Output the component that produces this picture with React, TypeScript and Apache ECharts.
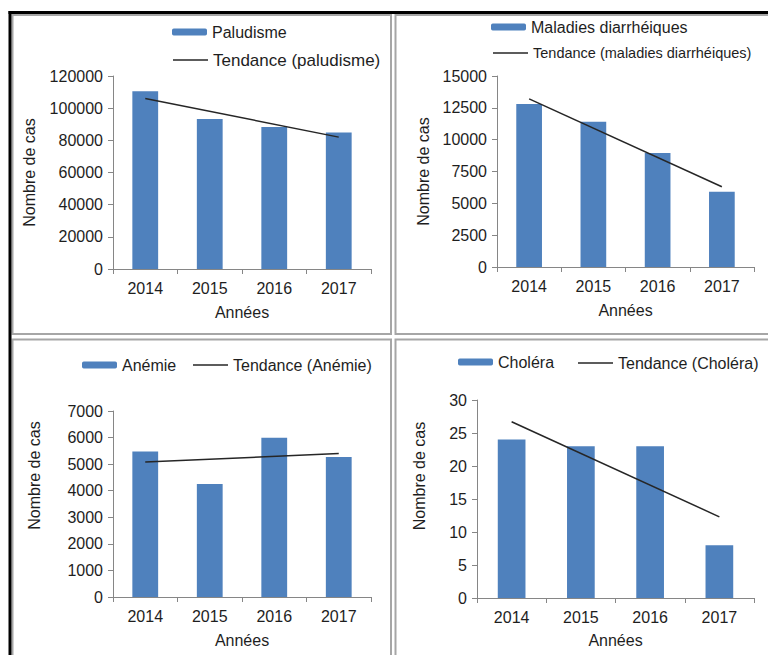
import React, { useEffect, useRef } from 'react';
import * as echarts from 'echarts';

// ---- data ----
const years = ['2014', '2015', '2016', '2017'];

const paludisme = [110500, 93200, 88300, 84900];
const paludismeTrend = [106000, 82000]; // trend line at 2014 and 2017

const diarrhee = [12800, 11400, 8950, 5900];
const diarrheeTrend = [13200, 6300];

const anemie = [5480, 4250, 5990, 5270];
const anemieTrend = [5080, 5400];

const cholera = [24, 23, 23, 8];
const choleraTrend = [26.7, 12.3];

const yMaxes = [120000, 15000, 7000, 30];
const ySteps = [20000, 2500, 1000, 5];

const barNames = ['Paludisme', 'Maladies diarrhéiques', 'Anémie', 'Choléra'];
const trendNames = [
  'Tendance (paludisme)',
  'Tendance (maladies diarrhéiques)',
  'Tendance (Anémie)',
  'Tendance (Choléra)',
];
const xTitle = 'Années';
const yTitle = 'Nombre de cas';

// ---- styles / layout ----
const FONT = '"Liberation Sans", Arial, Helvetica, sans-serif';
const TXT = '#1e1e1e';
const AXIS = '#868686';
const BLUE = '#4f81bd';
const TREND = '#262626';
const BORDER = '#a6a6a6';

const layouts = [
  {
    grid: { left: 113, top: 76, width: 258, height: 193 },
    nameGap: 76, namePad: 0, xNameGap: 35,
    legends: [
      { left: 172, top: 22, fontSize: 16 },
      { left: 173, top: 50, fontSize: 17 },
    ],
  },
  {
    grid: { left: 497, top: 76, width: 257, height: 191 },
    nameGap: 66, namePad: 0, xNameGap: 35,
    legends: [
      { left: 491, top: 17, fontSize: 16 },
      { left: 493, top: 43, fontSize: 14.5 },
    ],
  },
  {
    grid: { left: 113, top: 411, width: 258, height: 186 },
    nameGap: 71, namePad: 57, xNameGap: 35,
    legends: [
      { left: 82, top: 355, fontSize: 16 },
      { left: 193, top: 355, fontSize: 16 },
    ],
  },
  {
    grid: { left: 477, top: 400, width: 277, height: 198 },
    nameGap: 50, namePad: 46, xNameGap: 34,
    legends: [
      { left: 458, top: 352, fontSize: 16 },
      { left: 578, top: 353, fontSize: 16 },
    ],
  },
];

const barData = [paludisme, diarrhee, anemie, cholera];
const trendData = [paludismeTrend, diarrheeTrend, anemieTrend, choleraTrend];

export default function App() {
  const ref = useRef<HTMLDivElement>(null);

  useEffect(() => {
    if (!ref.current) return;
    const chart = echarts.init(ref.current, undefined, { renderer: 'svg' });

    const grids: any[] = [];
    const xAxes: any[] = [];
    const yAxes: any[] = [];
    const series: any[] = [];
    const legends: any[] = [];

    layouts.forEach((L, i) => {
      grids.push({ ...L.grid, containLabel: false });
      xAxes.push({
        type: 'category',
        gridIndex: i,
        data: years,
        axisLine: { show: true, lineStyle: { color: AXIS, width: 1 } },
        axisTick: { show: true, length: 5, lineStyle: { color: AXIS } },
        axisLabel: { fontSize: 16, color: TXT, margin: 11, fontFamily: FONT },
        name: xTitle,
        nameLocation: 'middle',
        nameGap: L.xNameGap,
        nameTextStyle: { fontSize: 16, color: TXT, fontFamily: FONT },
      });
      yAxes.push({
        type: 'value',
        gridIndex: i,
        min: 0,
        max: yMaxes[i],
        interval: ySteps[i],
        axisLine: { show: true, lineStyle: { color: AXIS, width: 1 } },
        axisTick: { show: true, length: 5, lineStyle: { color: AXIS } },
        splitLine: { show: false },
        axisLabel: {
          fontSize: 16,
          color: TXT,
          margin: 10,
          fontFamily: FONT,
          formatter: (v: number) => String(v),
        },
        name: yTitle,
        nameLocation: 'middle',
        nameGap: L.nameGap,
        nameTextStyle: {
          fontSize: 16,
          color: TXT,
          fontFamily: FONT,
          padding: [0, 0, 0, L.namePad],
        },
      });
      series.push({
        name: barNames[i],
        type: 'bar',
        xAxisIndex: i,
        yAxisIndex: i,
        data: barData[i],
        barWidth: '40%',
        itemStyle: { color: BLUE },
      });
      const t = trendData[i];
      series.push({
        name: trendNames[i],
        type: 'line',
        xAxisIndex: i,
        yAxisIndex: i,
        data: [t[0], null, null, t[1]],
        connectNulls: true,
        symbol: 'none',
        itemStyle: { color: TREND },
        lineStyle: { color: TREND, width: 1.5 },
        z: 5,
      });
      [barNames[i], trendNames[i]].forEach((nm, k) => {
        const lg = L.legends[k];
        const isLine = k === 1;
        legends.push({
          data: [isLine ? { name: nm, icon: 'rect', itemStyle: { color: TREND } } : nm],
          left: lg.left,
          top: lg.top,
          orient: 'horizontal',
          padding: 0,
          itemWidth: 35,
          itemHeight: isLine ? 1.5 : 7,
          itemGap: 0,
          selectedMode: false,
          textStyle: {
            fontSize: lg.fontSize,
            lineHeight: 20,
            color: TXT,
            fontFamily: FONT,
          },
        });
      });
    });

    const graphic: any[] = [
      // panel frames
      { type: 'rect', shape: { x: 12.5, y: 15, width: 378.5, height: 319 }, style: { fill: 'none', stroke: BORDER, lineWidth: 2 }, silent: true },
      { type: 'rect', shape: { x: 395.5, y: 15, width: 380, height: 319 }, style: { fill: 'none', stroke: BORDER, lineWidth: 2 }, silent: true },
      { type: 'rect', shape: { x: 12.5, y: 339.5, width: 378.5, height: 330 }, style: { fill: 'none', stroke: BORDER, lineWidth: 2 }, silent: true },
      { type: 'rect', shape: { x: 395.5, y: 339.5, width: 380, height: 330 }, style: { fill: 'none', stroke: BORDER, lineWidth: 2 }, silent: true },
      // outer black frame
      { type: 'line', shape: { x1: 10, y1: 11, x2: 10, y2: 660 }, style: { stroke: '#000', lineWidth: 3 }, silent: true },
      { type: 'line', shape: { x1: 8.5, y1: 12.5, x2: 770, y2: 12.5 }, style: { stroke: '#000', lineWidth: 3 }, silent: true },
    ];

    chart.setOption({
      animation: false,
      backgroundColor: '#ffffff',
      textStyle: { fontFamily: FONT },
      grid: grids,
      xAxis: xAxes,
      yAxis: yAxes,
      legend: legends,
      series,
      graphic,
    });

    return () => chart.dispose();
  }, []);

  return (
    <div
      ref={ref}
      style={{ position: 'absolute', left: 0, top: 0, width: 768, height: 655 }}
    />
  );
}
